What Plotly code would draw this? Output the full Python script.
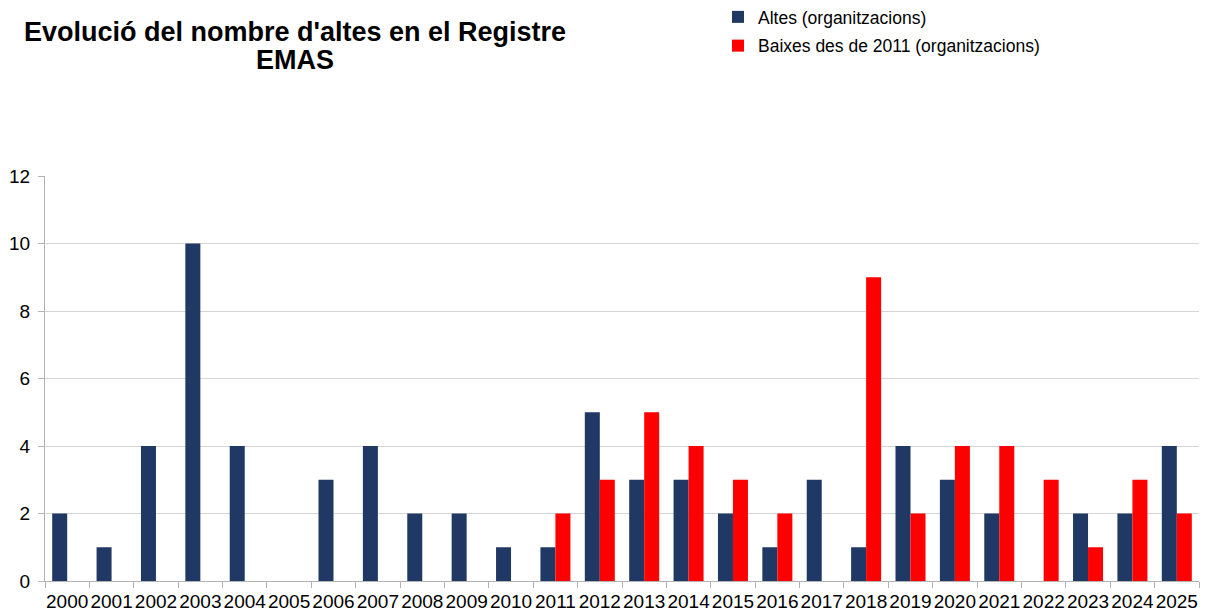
import plotly.graph_objects as go

# dades del registre EMAS
anys = [str(a) for a in range(2000, 2026)]
altes = [2, 1, 4, 10, 4, 0, 3, 4, 2, 2, 1, 1, 5, 3, 3, 2, 1, 3, 1, 4, 3, 2, 0, 2, 2, 4]
baixes = [None] * 11 + [2, 3, 5, 4, 3, 2, 0, 9, 2, 4, 4, 3, 1, 3, 2]

titol = ["Evolució del nombre d'altes en el Registre", "EMAS"]

# la pagina te un marge de 8px al body: tot es desplaça 8px
W, H = 1201, 604
L, T, R, B = 37, 168, 10, 31
PW, PH = W - L - R, H - T - B

fig = go.Figure()

fig.add_trace(go.Bar(
    x=anys, y=altes,
    name="Altes (organitzacions)", legendgroup="a",
    marker=dict(color="#203864", line=dict(width=0)),
))
fig.add_trace(go.Bar(
    x=anys, y=baixes,
    name="Baixes des de 2011 (organitzacions)", legendgroup="b",
    marker=dict(color="#ff0000", line=dict(width=0)),
))

anots = []
for linia, ypx in zip(titol, [24, 52]):
    anots.append(dict(
        text=f"<b>{linia}</b>",
        xref="paper", yref="paper", x=(287 - L) / PW, y=1 + (T - ypx) / PH,
        yanchor="middle", xanchor="center",
        showarrow=False, font=dict(size=27),
    ))

fig.update_layout(
    width=W, height=H,
    barmode="group", bargap=0.324, bargroupgap=0,
    plot_bgcolor="white", paper_bgcolor="white",
    font=dict(family="Liberation Sans, Arial, sans-serif", size=19, color="#000"),
    margin=dict(l=L, r=R, t=T, b=B, autoexpand=False),
    showlegend=True,
    legend=dict(
        x=(710 - L) / PW, xref="paper", xanchor="left",
        y=1 + (T + 9) / PH, yref="paper", yanchor="top",
        font=dict(size=17.5), itemwidth=30, tracegroupgap=3,
        bgcolor="rgba(0,0,0,0)",
    ),
    annotations=anots,
)

fig.update_xaxes(
    type="category", showline=True, linecolor="#b3b3b3", linewidth=1,
    ticks="outside", tickson="boundaries", ticklen=6, tickcolor="#b3b3b3",
    showgrid=False, tickangle=0, automargin=False, ticklabelstandoff=3,
    tickfont=dict(size=19),
)
fig.update_yaxes(
    range=[0, 12], dtick=2, showline=True, linecolor="#b3b3b3", linewidth=1,
    ticks="outside", ticklen=6, tickcolor="#b3b3b3",
    showgrid=True, gridcolor="#d4d4d4", gridwidth=1, zeroline=False,
    automargin=False, ticklabelstandoff=4, tickfont=dict(size=19),
)

fig.write_html("out.html")
